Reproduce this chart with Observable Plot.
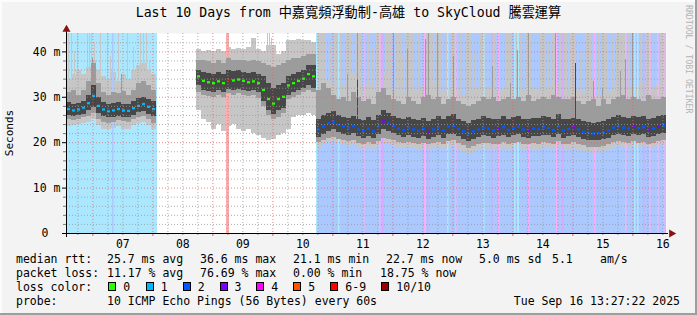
<!DOCTYPE html>
<html>
<head>
<meta charset="utf-8">
<script src="https://cdn.jsdelivr.net/npm/d3@7"></script>
<script src="https://cdn.jsdelivr.net/npm/@observablehq/plot@0.6"></script>
<style>
html,body{margin:0;padding:0;background:#f3f3f3;}
#chart{position:relative;width:697px;height:315px;background:#f3f3f3;overflow:hidden;
  font-family:"DejaVu Sans Mono",monospace;font-size:11.5px;color:#000;
  box-shadow: inset -2px -2px 0 #9e9e9e, inset 2px 2px 0 #fcfcfc;}
#chart svg{position:absolute;left:0;top:0;}
.t{position:absolute;white-space:pre;line-height:14px;}
#title{left:0;width:697px;top:5px;text-align:center;font-size:13.2px;line-height:16px;
  font-family:"DejaVu Sans Mono","Noto Sans CJK TC",monospace;}
#ylab{left:10px;top:133px;font-size:11px;transform:translate(-50%,-50%) rotate(-90deg);}
#rrd{left:684px;top:5px;writing-mode:vertical-rl;font-size:8.2px;color:#b4b4b4;line-height:10px;}
.sw{position:absolute;width:6px;height:7px;border:1px solid #000;}
</style>
</head>
<body>
<div id="chart"></div>
<script>
// ---------- DATA ----------
const titleText = "Last 10 Days from 中嘉寬頻浮動制-高雄 to SkyCloud 騰雲運算";
const yLabel = "Seconds";
const dayLabels = ["07","08","09","10","11","12","13","14","15","16"];
const yTickValues = [0, 10, 20, 30, 40];
const lossLabels = ["0","1","2","3","4","5","6-9","10/10"];

// 2-hour slots starting Sep 6 13:27:22 (120 slots = 10 days); null = no data
const med = [
 27.3,27.0,27.2,27.6,28.6,30.2,28.0,27.2,26.8,27.0,27.3,27.0,26.9,27.5,28.0,28.4,27.8,27.3,
 null,null,null,null,null,null,null,null,
 34.5,33.5,33.2,33.0,33.4,33.0,33.8,33.6,33.8,33.5,33.2,33.4,33.0,31.5,29.5,28.5,29.5,30.0,32.5,33.0,33.5,34.0,35.0,34.5,
 22.8,23.5,24.2,24.5,23.8,23.5,23.2,23.6,22.8,22.5,
 23.0,22.4,23.5,24.6,24.2,23.6,23.0,22.7,23.2,22.8,
 22.5,22.9,22.3,22.8,23.2,22.6,23.4,23.6,22.9,22.4,
 21.9,22.4,22.8,23.2,23.0,22.6,22.9,23.3,22.7,23.1,
 23.4,22.8,22.6,23.0,22.9,23.3,23.1,22.7,23.5,22.6,
 22.9,23.3,22.8,22.3,22.1,21.9,22.0,22.2,22.6,23.2,
 23.5,23.2,23.0,23.4,23.1,23.3,22.8,23.0,23.4,23.7
];
const lo3 = [
 26.0,25.8,26.0,26.2,27.0,27.8,26.5,25.8,25.5,25.6,25.8,25.6,25.5,26.0,26.6,26.8,26.2,25.8,
 null,null,null,null,null,null,null,null,
 32.5,31.5,31.2,31.0,31.5,31.0,31.8,31.5,31.8,31.5,31.2,31.5,31.0,29.0,27.0,26.2,27.0,27.5,30.5,31.0,31.5,32.0,32.5,32.0,
 21.2,21.8,22.5,22.8,22.2,21.9,21.6,22.0,21.3,21.0,
 21.4,20.9,21.8,22.8,22.5,22.0,21.5,21.2,21.6,21.2,
 21.0,21.3,20.8,21.2,21.5,21.0,21.7,21.9,21.3,20.8,
 20.3,20.8,21.2,21.5,21.4,21.0,21.3,21.6,21.1,21.5,
 21.7,21.2,21.0,21.4,21.3,21.6,21.5,21.1,21.8,21.0,
 21.3,21.6,21.2,20.8,20.5,20.4,20.5,20.7,21.0,21.6,
 21.8,21.6,21.4,21.8,21.5,21.7,21.2,21.4,21.8,22.0
];
const hi3 = [
 28.8,28.5,28.6,29.0,30.5,32.5,30.0,28.8,28.5,28.6,28.8,28.5,28.4,29.0,29.8,30.0,29.5,29.0,
 null,null,null,null,null,null,null,null,
 36.0,35.5,35.2,35.0,35.5,35.0,35.8,35.6,35.8,35.5,35.2,35.4,35.0,34.5,33.0,32.0,32.5,33.0,34.5,35.0,35.5,36.0,37.0,37.0,
 25.0,26.0,26.5,26.8,26.0,25.6,25.4,25.8,25.2,24.8,
 25.5,24.8,26.0,27.0,26.5,25.8,25.4,25.0,25.6,25.2,
 24.8,25.3,24.7,25.2,25.8,25.0,25.8,26.2,25.2,24.7,
 24.2,24.8,25.2,25.8,25.4,25.0,25.2,25.8,25.0,25.5,
 25.8,25.2,25.0,25.4,25.3,25.8,25.5,25.0,26.2,25.0,
 25.2,25.3,25.2,24.7,24.5,24.3,24.5,24.6,25.0,25.6,
 26.0,25.6,25.4,25.8,25.5,25.7,25.2,25.4,25.8,26.0
];
const lo2 = [
 25.0,24.8,25.2,25.5,25.8,26.5,25.0,24.5,24.2,24.5,24.8,24.6,24.4,25.0,25.5,25.8,25.0,24.2,
 null,null,null,null,null,null,null,null,
 31.0,30.5,30.2,30.0,30.5,30.0,30.8,30.5,30.8,30.5,30.2,30.4,29.8,28.0,26.0,25.0,25.5,26.5,29.5,30.0,30.5,31.0,31.5,31.0,
 20.0,20.5,21.0,21.2,20.8,20.5,20.2,20.5,19.8,19.6,
 20.0,19.5,20.2,21.0,20.8,20.4,20.0,19.8,20.1,19.8,
 19.6,19.9,19.5,19.8,20.0,19.6,20.2,20.4,19.8,19.3,
 18.8,19.2,19.6,19.9,19.8,19.5,19.7,20.0,19.6,19.9,
 20.1,19.7,19.5,19.8,19.7,20.0,19.9,19.6,20.2,19.5,
 19.7,20.0,19.6,19.3,19.0,18.9,19.0,19.2,19.5,20.0,
 20.2,20.0,19.8,20.2,19.9,20.1,19.7,19.8,20.2,20.4
];
const hi2 = [
 31.0,31.5,30.5,31.5,33.5,37.5,33.0,31.0,30.5,31.0,30.8,31.2,30.5,31.5,33.0,33.5,32.5,31.5,
 null,null,null,null,null,null,null,null,
 38.0,38.0,37.8,37.5,38.0,37.5,38.5,38.0,38.2,38.0,37.8,38.0,37.8,37.5,37.0,36.5,37.0,37.5,38.0,38.5,38.5,39.0,39.5,39.5,
 31.5,33.0,32.0,30.5,29.5,30.0,29.0,31.0,30.0,29.0,
 29.5,28.5,31.0,32.0,30.5,29.5,29.0,28.5,30.0,29.0,
 28.5,30.0,30.5,29.5,30.0,28.5,29.5,30.0,29.0,28.5,
 28.0,28.5,29.0,30.0,29.5,30.0,29.0,29.5,30.0,29.5,
 30.0,29.0,30.5,29.0,29.5,30.0,29.5,30.5,30.0,29.5,
 29.5,30.0,29.0,28.5,29.0,29.5,28.0,29.5,28.5,29.5,
 30.0,30.5,29.5,30.0,29.5,29.0,30.5,29.5,29.5,30.0
];
const lo1 = [
 23.5,23.8,24.0,24.2,24.5,25.0,23.8,23.0,22.8,23.2,23.5,23.0,23.0,23.8,24.2,24.5,23.8,23.0,
 null,null,null,null,null,null,null,null,
 27.0,25.0,24.5,23.0,24.0,22.5,23.5,24.0,23.0,22.5,22.8,22.0,21.5,21.0,20.5,20.8,21.5,22.0,23.0,25.5,26.0,26.0,26.5,26.0,
 19.0,19.5,20.0,20.2,19.8,19.5,19.2,19.5,18.8,18.6,
 19.0,18.5,19.2,19.8,19.6,19.3,19.0,18.8,19.0,18.7,
 18.5,18.8,18.4,18.7,18.9,18.5,19.0,19.2,18.6,18.0,
 17.6,18.0,18.4,18.8,18.6,18.3,18.5,18.8,18.4,18.7,
 18.9,18.5,18.3,18.6,18.5,18.8,18.7,18.4,19.0,18.3,
 18.5,18.8,18.4,18.0,17.8,17.7,17.8,18.0,18.3,18.8,
 19.2,19.0,18.8,19.2,18.9,19.1,18.7,18.8,19.2,19.4
];
const hi1 = [
 34.0,35.0,36.0,35.0,36.5,38.0,36.0,34.5,34.0,35.5,33.5,35.0,34.0,36.0,37.0,37.5,36.0,35.0,
 null,null,null,null,null,null,null,null,
 40.5,40.0,40.2,40.0,40.5,40.0,41.0,40.5,40.8,40.5,41.0,43.0,40.5,40.0,41.5,41.5,39.5,40.0,42.5,42.5,42.8,42.5,42.5,42.0,
 44.0,44.0,34.0,33.0,44.0,32.5,44.0,35.0,44.0,32.0,
 33.0,31.5,44.0,35.0,44.0,31.5,44.0,31.0,44.0,32.0,
 31.5,32.5,44.0,33.0,44.0,31.0,32.0,44.0,31.5,30.5,
 44.0,31.5,32.0,44.0,32.0,44.0,31.5,32.0,44.0,32.0,
 44.0,31.5,44.0,32.0,31.5,44.0,32.0,44.0,33.0,44.0,
 32.0,44.0,31.5,31.0,44.0,34.0,30.5,44.0,31.0,32.0,
 44.0,44.0,32.0,44.0,32.5,33.0,44.0,32.0,33.0,44.0
];
// loss class of the median per slot (index into lossLabels)
const medLoss = [
 1,1,1,1,1,1,1,1,1,1,1,1,1,1,1,1,1,1,
 null,null,null,null,null,null,null,null,
 0,0,0,0,0,0,6,0,0,0,0,0,0,0,0,0,0,0,0,0,0,0,0,0,
 2,2,2,2,2,2,2,2,2,2,
 2,2,2,3,2,2,2,2,2,2,
 2,2,3,2,2,2,2,2,2,2,
 2,2,2,2,2,2,3,2,2,2,
 2,2,3,2,2,2,2,2,2,2,
 2,3,2,2,2,2,2,2,2,2,
 2,2,2,3,2,2,3,2,3,2
];
// single-sample smoke spikes: [hour, top (ms), layer 1=outer 2=middle 3=inner]
const smokeSpikes = [
 [0.8,44,1],[2.0,44,1],[3.2,40,1],[4.4,44,1],[8.4,44,1],[9.2,44,1],[10.0,44,1],[11.2,42,1],[13.6,44,1],
 [16.4,44,1],[17.6,39,1],[20.8,44,1],[24.4,44,1],[26.8,41,1],[29.6,44,1],[30.8,44,1],[32.0,44,1],[33.2,38,1],
 [80.4,44,1],[81.2,44,1],[82.0,43,1],
 [101.6,44,1],[102.8,44,1],[105.6,42,1],[107.2,44,1],[110.0,44,1],[113.6,44,1],[114.8,40,1],[118.0,44,1],
 [120.8,44,1],[122.4,41,1],[127.6,44,1],[129.6,44,1],[132.8,44,1],[134.4,39,1],[138.4,44,1],[140.8,44,1],
 [146.4,44,1],[150.0,42,1],[152.0,44,1],[157.6,44,1],[160.4,44,1],[163.2,40,1],[165.6,44,1],[168.4,44,1],
 [171.6,44,1],[174.8,44,1],[176.4,41,1],[181.6,44,1],[186.8,44,1],[189.6,44,1],[192.8,42,1],[197.6,44,1],
 [200.0,44,1],[201.6,44,1],[205.6,40,1],[207.6,44,1],[212.8,44,1],[216.0,44,1],[218.4,43,1],[220.4,44,1],
 [224.8,44,1],[229.6,44,1],[232.0,41,1],[234.8,44,1],[237.6,44,1],
 [10.4,38.5,2],[22.0,35,2],
 [112.4,35,2],[116.4,44,2],[130.8,44,2],[136.4,40.5,2],[143.6,42.8,2],[144.8,44,2],[148.4,44,2],[154.8,38.9,2],
 [170.4,36.8,2],[177.6,33,2],[180.4,40.4,2],[184.8,44,2],[195.6,44,2],[210.8,33.5,2],[214.4,32,2],[221.6,35.7,2],
 [223.6,38.3,2],[226.4,44,2],
 [116.4,34,3],[203.6,37.5,3]
];
// loss background periods: [start hour, end hour, class]
const lossPeriods = [[0, 36.4, 1], [100, 240, 2]];
// short loss events: [start hour, duration hours, class]
const lossEvents = [
 [18.4,0.6,2],[64.0,1.2,6],[100.0,0.6,1],[108.8,0.6,1],[118.8,0.6,4],[125.2,0.6,4],[126.4,0.6,3],
 [143.2,0.8,4],[144.4,0.6,3],[152.4,0.6,1],[155.6,0.6,4],[166.8,0.6,1],[170.0,0.6,3],[172.8,0.6,4],
 [179.2,0.6,1],[180.4,0.8,1],[184.8,0.6,4],[196.0,0.6,4],[198.4,0.6,3],[211.2,0.6,4],[223.6,0.6,4],
 [227.2,0.6,1],[228.4,0.6,1],[230.8,0.6,3],[233.2,0.6,4],[236.4,0.6,4],[238.8,0.6,4]
];
const rttStats = ["25.7 ms avg","36.6 ms max","21.1 ms min","22.7 ms now","5.0 ms sd","5.1","am/s"];
const lossStats = ["11.17 % avg","76.69 % max","0.00 % min","18.75 % now"];
const probeText = "10 ICMP Echo Pings (56 Bytes) every 60s";
const stampText = "Tue Sep 16 13:27:22 2025";

// ---------- STYLE ----------
const lossColors = ["#26ff00","#00b8ff","#0059ff","#7e00ff","#ff00ff","#ff5500","#ff0000","#a10000"];
const lossBg = lossColors.map(c => d3.interpolateRgb("#ffffff", c)(0.33));
const smokeFill = ["", "#c6c6c6", "#9c9c9c", "#474747"];

// ---------- BUILD ----------
const tStart = Date.UTC(2025, 8, 6, 13, 27, 22);
const HOUR = 3600e3, SLOT_H = 2, SPIKE_H = 0.4;
const at = h => new Date(tStart + h * HOUR);
const yMax = 44.05;

const rows = [];
med.forEach((m, i) => {
  if (m == null) return;
  rows.push({t1: at(i*SLOT_H), t2: at((i+1)*SLOT_H), med: m,
    lo1: lo1[i], hi1: hi1[i], lo2: lo2[i], hi2: hi2[i], lo3: lo3[i], hi3: hi3[i], loss: medLoss[i]});
});
const spikes = smokeSpikes.map(([h, top, layer]) => ({
  t1: at(h), t2: at(h + SPIKE_H), top, layer, base: med[Math.floor(h / SLOT_H)]
}));
const spikeLayer = k => spikes.filter(d => d.layer === k);

const days = d3.utcDay.range(at(0), at(240));
const sixH = d3.utcHour.every(6).range(at(0), at(240)).filter(d => d.getUTCHours() !== 0);
const noons = dayLabels.map(s => new Date(Date.UTC(2025, 8, +s, 12)));
const yMinor = d3.range(2, 44, 2).filter(v => v % 10 !== 0);
const yMajor = yTickValues.filter(v => v > 0);
const crisp = {shapeRendering: "crispEdges", clip: true};

const plot = Plot.plot({
  width: 697, height: 315,
  marginLeft: 66, marginRight: 31, marginTop: 33, marginBottom: 82,
  x: {type: "utc", domain: [at(0), at(240)]},
  y: {domain: [0, yMax]},
  color: {type: "identity"},
  style: {background: "transparent", fontFamily: "DejaVu Sans Mono", fontSize: "11.5px", color: "#000", overflow: "visible"},
  marks: [
    Plot.frame({fill: "white", stroke: "none"}),
    Plot.rect(lossPeriods, {x1: d => at(d[0]), x2: d => at(d[1]), fill: d => lossBg[d[2]], ...crisp}),
    Plot.rect(rows, {x1: "t1", x2: "t2", y1: "lo1", y2: "hi1", fill: smokeFill[1], ...crisp}),
    Plot.rect(spikeLayer(1), {x1: "t1", x2: "t2", y1: "base", y2: "top", fill: smokeFill[1], ...crisp}),
    Plot.rect(lossEvents, {x1: d => at(d[0]), x2: d => at(d[0] + d[1]), fill: d => lossBg[d[2]]}),
    Plot.rect(rows, {x1: "t1", x2: "t2", y1: "lo2", y2: "hi2", fill: smokeFill[2], ...crisp}),
    Plot.rect(spikeLayer(2), {x1: "t1", x2: "t2", y1: "base", y2: "top", fill: smokeFill[2], ...crisp}),
    Plot.rect(rows, {x1: "t1", x2: "t2", y1: "lo3", y2: "hi3", fill: smokeFill[3], ...crisp}),
    Plot.rect(spikeLayer(3), {x1: "t1", x2: "t2", y1: "base", y2: "top", fill: smokeFill[3], ...crisp}),
    Plot.rect(rows, {x1: "t1", x2: "t2", y1: d => d.med - 0.25, y2: d => d.med + 0.25,
      fill: d => lossColors[d.loss], insetLeft: 1, insetRight: 1}),
    // grid
    Plot.ruleX(sixH, {stroke: "#9a9a9a", strokeDasharray: "1,2", strokeOpacity: 0.8}),
    Plot.ruleX(days, {stroke: "#e06666", strokeDasharray: "1,2", strokeOpacity: 0.75}),
    Plot.ruleY(yMinor, {stroke: "#9a9a9a", strokeDasharray: "1,2", strokeOpacity: 0.8}),
    Plot.ruleY(yMajor, {stroke: "#e06666", strokeDasharray: "1,2", strokeOpacity: 0.75}),
    // ticks
    Plot.axisY({ticks: yMinor, tickSize: 3, tickFormat: () => "", stroke: "#777", label: null}),
    Plot.axisY({ticks: yTickValues, tickSize: 4, tickFormat: () => "", stroke: "#000", label: null}),
    Plot.axisX({ticks: sixH, tickSize: 2, tickFormat: () => "", stroke: "#888", label: null}),
    Plot.axisX({ticks: days, tickSize: 3, tickFormat: () => "", stroke: "#e06666", label: null}),
    // labels
    Plot.axisY({ticks: yMajor, tickSize: 0, tickPadding: 6, tickFormat: d => `${d} m`, label: null}),
    Plot.axisY({ticks: [0], tickSize: 0, tickPadding: 18, tickFormat: d => `${d}`, label: null}),
    Plot.axisX({ticks: noons, tickSize: 0, tickPadding: 6, tickFormat: d => dayLabels[noons.findIndex(n => +n === +d)], label: null}),
    // axis lines + arrows
    Plot.ruleY([0], {stroke: "#000", insetLeft: -4, insetRight: -2}),
    Plot.ruleX([at(0)], {stroke: "#000", insetTop: -3, insetBottom: -4}),
    Plot.dot([at(240)], {x: d => d, y: () => 0, symbol: "triangle", r: 3, rotate: 90, fill: "#8b1010", dx: 5}),
    Plot.dot([at(0)], {x: d => d, y: () => yMax, symbol: "triangle", r: 3, fill: "#8b1010", dy: -4})
  ]
});

const chart = document.getElementById("chart");
chart.appendChild(plot);

function addText(txt, left, top, id) {
  const el = document.createElement("div");
  el.className = "t";
  if (id) el.id = id;
  if (left != null) el.style.left = left + "px";
  if (top != null) el.style.top = top + "px";
  el.textContent = txt;
  chart.appendChild(el);
  return el;
}
addText(titleText, null, null, "title");
addText(yLabel, null, null, "ylab");
addText("RRDTOOL / TOBI OETIKER", null, null, "rrd");

const rowTop = [252, 266, 280, 294];
const statCols = [107, 200, 293, 386, 479, 552, 600];
const lossCols = [107, 200, 293, 380];
addText("median rtt:", 16, rowTop[0]);
rttStats.forEach((s, i) => addText(s, statCols[i], rowTop[0]));
addText("packet loss:", 16, rowTop[1]);
lossStats.forEach((s, i) => addText(s, lossCols[i], rowTop[1]));
addText("loss color:", 16, rowTop[2]);
const swX = [108.3, 145.7, 182.7, 219.5, 256.3, 293.3, 330.3, 381.3];
lossLabels.forEach((lab, i) => {
  const b = document.createElement("div");
  b.className = "sw";
  b.style.left = swX[i] + "px";
  b.style.top = "281.5px";
  b.style.background = lossColors[i];
  chart.appendChild(b);
  addText(lab, swX[i] + 15, rowTop[2]);
});
addText("probe:", 16, rowTop[3]);
addText(probeText, 107, rowTop[3]);
const st = addText(stampText, null, rowTop[3]);
st.style.right = "17px";
</script>
</body>
</html>
